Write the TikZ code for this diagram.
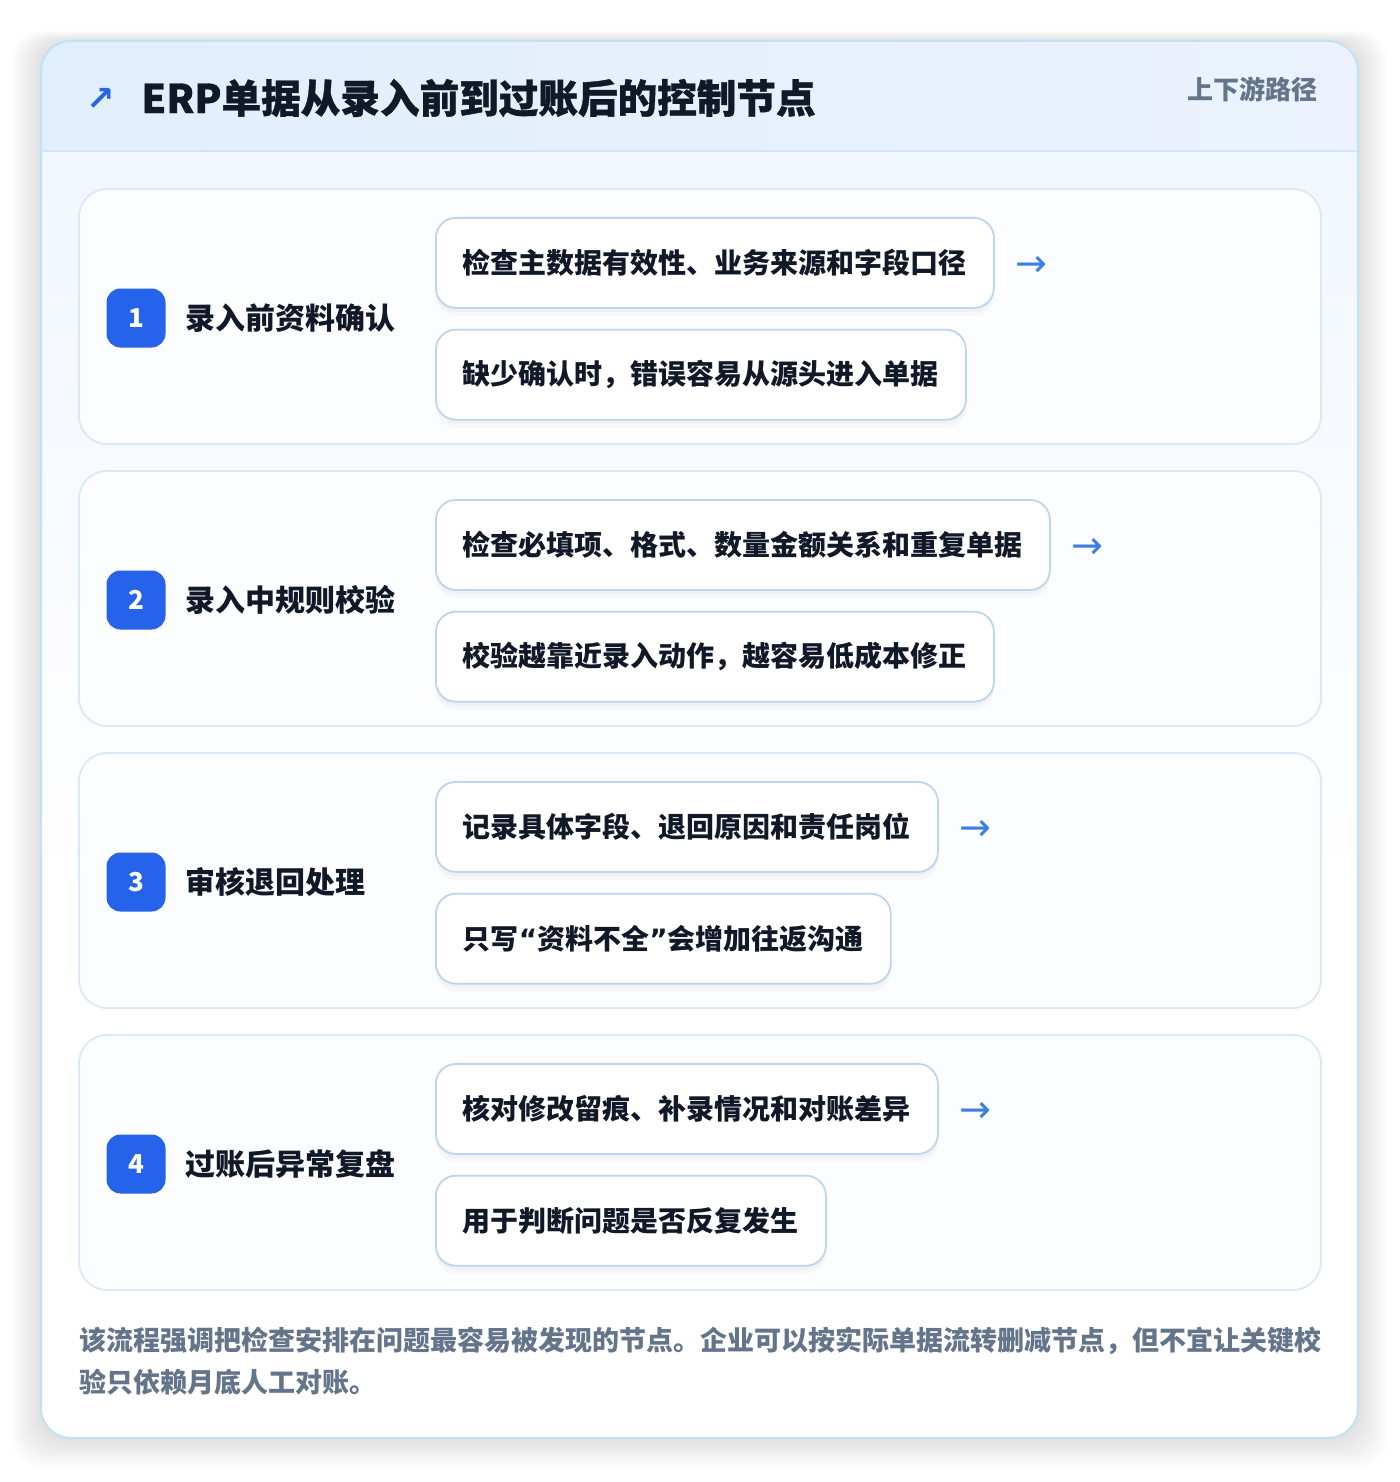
\documentclass[tikz,border=0pt]{standalone}
\usepackage{fontspec}
\setmainfont{Noto Sans CJK SC}
\newfontfamily\symfont{DejaVu Sans}
\newfontfamily\heavyfont{Noto Sans CJK SC}[BoldFeatures={FakeBold=0.9}]
\usetikzlibrary{positioning,calc}

\definecolor{inkdark}{HTML}{111827}
\definecolor{inkgray}{HTML}{64748B}
\definecolor{panelline}{HTML}{BFE2F6}
\definecolor{headtop}{HTML}{E1EEFC}
\definecolor{headend}{HTML}{EBF2FD}
\definecolor{headline}{HTML}{D3E6F8}
\definecolor{bodytint}{HTML}{F1F7FE}
\definecolor{cardline}{HTML}{DAE8F7}
\definecolor{cardfill}{HTML}{FBFDFF}
\definecolor{boxline}{HTML}{BCD5F2}
\definecolor{badgeblue}{HTML}{2563EB}
\definecolor{arrowblue}{HTML}{3B7FE0}

\newcommand{\narrowq}[1]{{\symfont\bfseries #1}}

\begin{document}
\begin{tikzpicture}[x=0.5pt,y=-0.5pt]
\tikzstyle{card}=[rectangle, rounded corners=14pt, draw=cardline, line width=0.9pt, fill=cardfill, minimum width=621pt, minimum height=127.5pt]
\tikzstyle{badge}=[rectangle, rounded corners=7pt, fill=badgeblue, text=white, font=\bfseries\fontsize{13}{13}\selectfont, minimum size=29.5pt, inner sep=0pt]
\tikzstyle{steplabel}=[inner sep=0pt, text=inkdark, font=\bfseries\fontsize{15}{15}\selectfont, node distance=9.5pt]
\tikzstyle{detail}=[rectangle, rounded corners=10pt, draw=boxline, line width=0.9pt, fill=white, text=inkdark, font=\bfseries\fontsize{14}{14}\selectfont, minimum height=45pt, inner xsep=13.5pt,
  preaction={fill=black, opacity=0.022, transform canvas={yshift=-4pt}},
  preaction={fill=black, opacity=0.022, transform canvas={yshift=-2pt}}]
\tikzstyle{flow}=[text=arrowblue, font=\symfont\fontsize{19}{19}\selectfont, inner sep=0pt, node distance=10pt]

  \useasboundingbox (0,0) rectangle (1400,1482);
  \fill[white] (0,0) rectangle (1400,1482);

  % soft shadow under the panel
  \foreach \s in {2,4,...,30}
    \fill[black, opacity=0.006, rounded corners=15pt] (41-\s,41-\s/3) rectangle (1358+\s,1438+\s);

  % outer panel
  \node[rectangle, rounded corners=15pt, fill=white, minimum width=658.5pt, minimum height=698.5pt] (panel) at (699.5,739.5) {};
  \begin{scope}
    \clip[rounded corners=15pt] (41,41) rectangle (1358,1438);
    \fill[top color=bodytint, bottom color=white] (41,151) rectangle (1358,900);
    \fill[left color=headtop, right color=headend] (41,41) rectangle (1358,151);
  \end{scope}
  \draw[headline, line width=0.9pt] (41,151) -- (1358,151);
  \draw[panelline, line width=1pt, rounded corners=15pt] (41,41) rectangle (1358,1438);

  % header
  \node[text=badgeblue, font=\symfont\bfseries\fontsize{17}{17}\selectfont, inner sep=0pt] (headicon) at (101,99) {↗};
  \node[anchor=west, inner sep=0pt, text=inkdark, font=\heavyfont\bfseries\fontsize{19.8}{20}\selectfont] (title) at (141,98) {ERP单据从录入前到过账后的控制节点};
  \node[anchor=east, inner sep=0pt, text=inkgray, font=\bfseries\fontsize{13}{13}\selectfont] (route) at (1318,89) {上下游路径};

  % step cards
  \node[card] (card1) at (700,316.5) {};
  \node[card] (card2) at (700,598.5) {};
  \node[card] (card3) at (700,880.5) {};
  \node[card] (card4) at (700,1162.5) {};

  \node[badge] (badge1) at (136,318) {1};
  \node[badge] (badge2) at (136,600) {2};
  \node[badge] (badge3) at (136,882) {3};
  \node[badge] (badge4) at (136,1164) {4};

  \node[steplabel] (label1) [right=of badge1] {录入前资料确认};
  \node[steplabel] (label2) [right=of badge2] {录入中规则校验};
  \node[steplabel] (label3) [right=of badge3] {审核退回处理};
  \node[steplabel] (label4) [right=of badge4] {过账后异常复盘};

  % detail boxes
  \node[detail, anchor=north west] (d1a) at (435,217) {检查主数据有效性、业务来源和字段口径};
  \node[detail] (d1b) [below=10pt of d1a.south west, anchor=north west] {缺少确认时，错误容易从源头进入单据};
  \node[detail, anchor=north west] (d2a) at (435,499) {检查必填项、格式、数量金额关系和重复单据};
  \node[detail] (d2b) [below=10pt of d2a.south west, anchor=north west] {校验越靠近录入动作，越容易低成本修正};
  \node[detail, anchor=north west] (d3a) at (435,781) {记录具体字段、退回原因和责任岗位};
  \node[detail] (d3b) [below=10pt of d3a.south west, anchor=north west] {只写\narrowq{“}资料不全\narrowq{”}会增加往返沟通};
  \node[detail, anchor=north west] (d4a) at (435,1063) {核对修改留痕、补录情况和对账差异};
  \node[detail] (d4b) [below=10pt of d4a.south west, anchor=north west] {用于判断问题是否反复发生};

  \node[flow] (f1) [right=of d1a, yshift=-2pt] {→};
  \node[flow] (f2) [right=of d2a, yshift=-2pt] {→};
  \node[flow] (f3) [right=of d3a, yshift=-2pt] {→};
  \node[flow] (f4) [right=of d4a, yshift=-2pt] {→};

  % footer note
  \node[anchor=north west, inner sep=0pt, text=inkgray, align=left,
        font=\bfseries\fontsize{13.5}{21}\selectfont] (note) at (79,1327)
        {该流程强调把检查安排在问题最容易被发现的节点。企业可以按实际单据流转删减节点，但不宜让关键校\\验只依赖月底人工对账。};

\end{tikzpicture}
\end{document}
